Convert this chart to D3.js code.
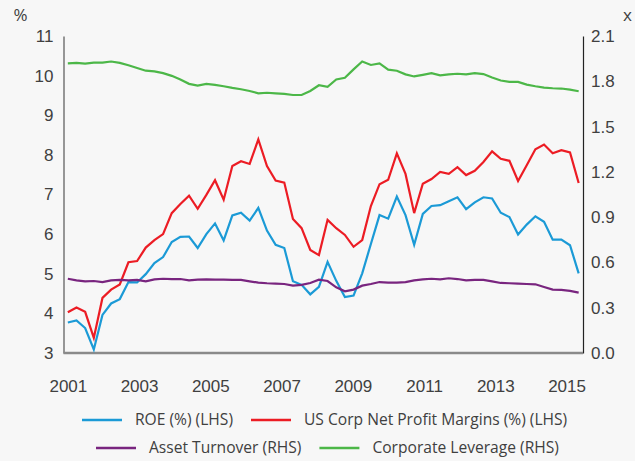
<!DOCTYPE html>
<html>
<head>
<meta charset="utf-8">
<script src="https://cdn.jsdelivr.net/npm/d3@7"></script>
<style>
  html, body { margin: 0; padding: 0; background: #f7f7f7; }
  svg { display: block; font-family: "Open Sans", "Noto Sans", sans-serif; }
  .tick text { fill: #404040; font-size: 17px; }
  .legend text { fill: #404040; font-size: 15.6px; }
</style>
</head>
<body>
<div id="chart"></div>
<script>
// quarterly data, 2001 Q1 .. 2015 Q4
var roe = [3.77, 3.82, 3.63, 3.09, 3.96, 4.25, 4.36, 4.79, 4.78, 4.99, 5.27, 5.42, 5.80, 5.93, 5.94,
    5.65, 6.00, 6.27, 5.84, 6.47, 6.54, 6.34, 6.66, 6.09, 5.73, 5.65, 4.81, 4.72, 4.48, 4.67,
    5.30, 4.82, 4.41, 4.45, 5.01, 5.75, 6.48, 6.39, 6.95, 6.48, 5.73, 6.51, 6.71, 6.73, 6.83,
    6.93, 6.63, 6.80, 6.93, 6.90, 6.54, 6.43, 5.99, 6.24, 6.45, 6.31, 5.86, 5.86, 5.72, 5.01];

var margins = [4.03, 4.15, 4.04, 3.38, 4.39, 4.60, 4.73, 5.29, 5.32, 5.66, 5.85, 6.00, 6.53, 6.76, 6.97,
    6.64, 6.99, 7.36, 6.87, 7.72, 7.84, 7.77, 8.39, 7.72, 7.35, 7.30, 6.38, 6.15, 5.60, 5.47,
    6.36, 6.15, 5.98, 5.68, 5.85, 6.71, 7.26, 7.37, 8.04, 7.52, 6.53, 7.27, 7.39, 7.57, 7.52,
    7.69, 7.49, 7.60, 7.82, 8.09, 7.90, 7.85, 7.34, 7.74, 8.14, 8.26, 8.04, 8.12, 8.06, 7.29];

var turnover = [0.492, 0.481, 0.475, 0.477, 0.470, 0.481, 0.484, 0.481, 0.484, 0.475, 0.488, 0.492, 0.490, 0.490, 0.481,
    0.486, 0.488, 0.486, 0.486, 0.484, 0.484, 0.475, 0.466, 0.462, 0.460, 0.457, 0.446, 0.451, 0.464, 0.486,
    0.477, 0.435, 0.409, 0.420, 0.446, 0.457, 0.470, 0.466, 0.466, 0.470, 0.481, 0.488, 0.492, 0.488, 0.495,
    0.490, 0.481, 0.484, 0.484, 0.475, 0.464, 0.462, 0.460, 0.457, 0.455, 0.437, 0.420, 0.418, 0.411, 0.400];

var leverage = [1.919, 1.922, 1.917, 1.924, 1.924, 1.931, 1.922, 1.906, 1.888, 1.870, 1.866, 1.854, 1.836, 1.812, 1.783,
    1.771, 1.783, 1.776, 1.767, 1.756, 1.747, 1.736, 1.720, 1.724, 1.720, 1.716, 1.709, 1.709, 1.736, 1.774,
    1.763, 1.812, 1.823, 1.879, 1.931, 1.908, 1.919, 1.877, 1.870, 1.846, 1.832, 1.843, 1.854, 1.839, 1.846,
    1.850, 1.846, 1.854, 1.848, 1.825, 1.805, 1.796, 1.796, 1.778, 1.767, 1.758, 1.754, 1.752, 1.745, 1.734];

var yearLabels = ["2001", "2003", "2005", "2007", "2009", "2011", "2013", "2015"];
var leftTicks = [3, 4, 5, 6, 7, 8, 9, 10, 11];
var rightTicks = [0, 0.3, 0.6, 0.9, 1.2, 1.5, 1.8, 2.1];

var series = [
    { name: "ROE (%) (LHS)", values: roe, axis: "left", color: "#1b9ad6" },
    { name: "US Corp Net Profit Margins (%) (LHS)", values: margins, axis: "left", color: "#ec1c24" },
    { name: "Asset Turnover (RHS)", values: turnover, axis: "right", color: "#79257f" },
    { name: "Corporate Leverage (RHS)", values: leverage, axis: "right", color: "#4cb748" }
];

var W = 635, H = 461;
var margin = { top: 36, right: 52, bottom: 108, left: 63.5 };
var width = W - margin.left - margin.right,
    height = H - margin.top - margin.bottom;

var svg = d3.select("#chart").append("svg")
    .attr("width", W)
    .attr("height", H)
  .append("g")
    .attr("transform", "translate(" + margin.left + "," + margin.top + ")");

// scales
var x = d3.scaleLinear()
    .domain([-0.5, roe.length - 0.5])
    .range([0, width]);

var yLeft = d3.scaleLinear().domain([3, 11]).range([height, 0]);
var yRight = d3.scaleLinear().domain([0, 2.1]).range([height, 0]);

// year labels are spread a bit wider than the quarters in the original
var xLabels = d3.scalePoint()
    .domain(yearLabels)
    .range([x(0), x(57.6)]);

// axes
svg.append("g")
    .attr("class", "y-axis axis")
    .call(d3.axisLeft(yLeft).tickValues(leftTicks).tickSize(0).tickPadding(10).tickFormat(d3.format("d")))
    .call(function(g) { g.select(".domain").attr("stroke", "#555").attr("stroke-width", 1.2); });

svg.append("g")
    .attr("class", "y-axis-right axis")
    .attr("transform", "translate(" + width + ",0)")
    .call(d3.axisRight(yRight).tickValues(rightTicks).tickSize(0).tickPadding(8).tickFormat(d3.format(".1f")))
    .call(function(g) { g.select(".domain").attr("stroke", "#222").attr("stroke-width", 1.2); });

svg.append("g")
    .attr("class", "x-axis axis")
    .attr("transform", "translate(0," + height + ")")
    .call(d3.axisBottom(xLabels).tickSize(0).tickPadding(27))
    .call(function(g) { g.select(".domain").remove(); });

svg.append("line")
    .attr("x1", 0).attr("x2", width)
    .attr("y1", height).attr("y2", height)
    .attr("stroke", "#8a8a8a")
    .attr("stroke-width", 2.5);

svg.selectAll(".axis text").attr("font-family", null);
svg.selectAll(".tick text").attr("fill", "#404040");

// unit labels
svg.append("text")
    .attr("x", -50).attr("y", -15)
    .attr("fill", "#404040").attr("font-size", "17px")
    .text("%");

svg.append("text")
    .attr("x", width + 40).attr("y", -15)
    .attr("fill", "#404040").attr("font-size", "17px")
    .text("x");

// lines
series.forEach(function(s) {
    var yScale = s.axis === "left" ? yLeft : yRight;
    var line = d3.line()
        .x(function(d, i) { return x(i); })
        .y(function(d) { return yScale(d); });

    svg.append("path")
        .datum(s.values)
        .attr("class", "line")
        .attr("fill", "none")
        .attr("stroke", s.color)
        .attr("stroke-width", 2.2)
        .attr("stroke-linejoin", "miter")
        .attr("d", line);
});

// legend, two rows
var legendRows = [[series[0], series[1]], [series[2], series[3]]];
var legend = d3.select("svg").append("g").attr("class", "legend");
var rowY = [420, 448];
var rowX = [82, 96];

legendRows.forEach(function(row, r) {
    var cx = rowX[r];
    row.forEach(function(s) {
        legend.append("line")
            .attr("x1", cx).attr("x2", cx + 40)
            .attr("y1", rowY[r]).attr("y2", rowY[r])
            .attr("stroke", s.color)
            .attr("stroke-width", 2.5);
        var t = legend.append("text")
            .attr("x", cx + 53)
            .attr("y", rowY[r])
            .attr("dy", "0.35em")
            .text(s.name);
        cx += 53 + t.node().getComputedTextLength() + 18;
    });
});
</script>
</body>
</html>
